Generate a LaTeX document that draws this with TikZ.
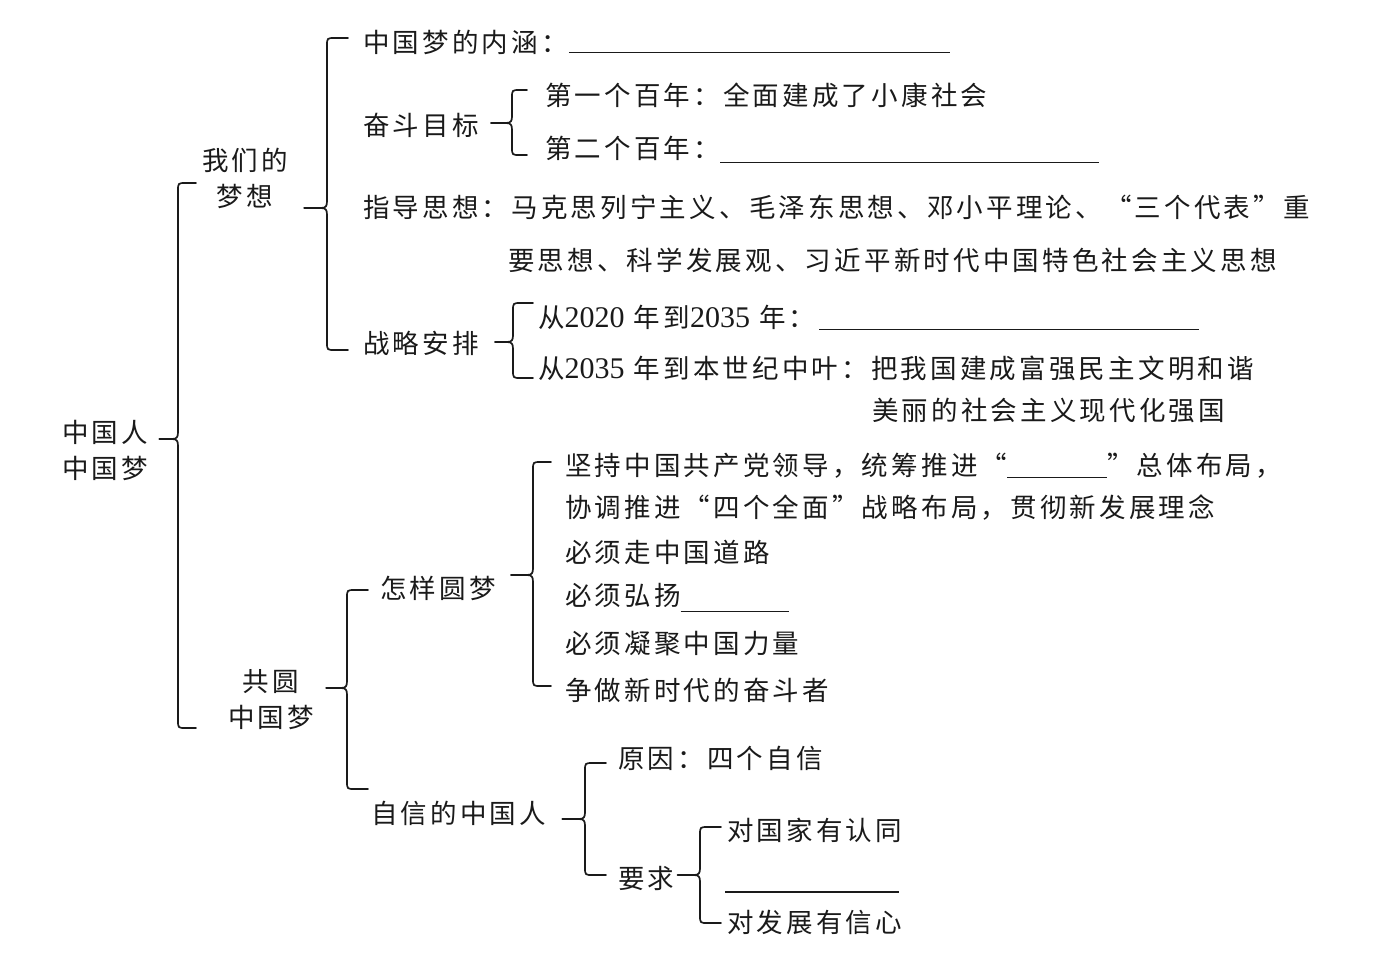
\documentclass[tikz,border=0pt]{standalone}
\usepackage{fontspec}
\newfontfamily\cjk{Noto Sans CJK SC}[LetterSpace=12]
\newfontfamily\lat{Liberation Serif}
\usetikzlibrary{calc}
\definecolor{ink}{HTML}{1A1A1A}
\newcommand\ds[1]{{\lat\fontsize{30}{30}\selectfont #1}}
\newcommand\blank[2]{\rule[#1]{#2}{1.3pt}}
% #1 prefix, #2 parent node, #3 x of vertical, #4 y top, #5 y cusp, #6 y bottom, #7 hook end x, #8 gap after parent
\newcommand\brk[8]{%
  \coordinate (#1t) at (#7,#4);
  \coordinate (#1b) at (#7,#6);
  \coordinate (#1c) at ({#3-6},#5);
  \draw[brline] (#1t) -- ({#3+8},#4) .. controls (#3,#4) .. (#3,{#4+8})
    -- (#3,{#5-7}) .. controls (#3,{#5-2}) and ({#3-1},#5) .. (#1c)
    .. controls ({#3-1},#5) and (#3,{#5+2}) .. (#3,{#5+7})
    -- (#3,{#6-8}) .. controls (#3,#6) .. ({#3+8},#6) -- (#1b);
  \draw[brline] ($(#2.east |- #1c)+(#8,0)$) -- (#1c);
}
\begin{document}
\begin{tikzpicture}[x=1pt,y=-1pt,
  brline/.style={line width=1.7pt, draw=ink, line cap=round, line join=round},
  txt/.style={anchor=west, inner sep=0pt, text=ink, font=\cjk\fontsize{26.5}{36}\selectfont, text height=23.3pt, text depth=3.2pt},
  two/.style={inner sep=0pt, text=ink, font=\cjk\fontsize{26.5}{36}\selectfont}]
\fill[white] (0,0) rectangle (1391,954);
\useasboundingbox (0,0) rectangle (1391,954);

% level 0 / 1
\node[two, align=left, anchor=west] (n0) at (62,450) {中国人\\中国梦};
\node[two, align=center] (n1) at (245,178.5) {我们的\\梦想};
\node[two, align=center] (n2) at (271,699.5) {共圆\\中国梦};

% 我们的梦想
\node[txt] (a1) at (363,42) {中国梦的内涵：\hspace{1pt}\blank{-1pt}{381pt}};
\node[txt] (a2) at (363,125) {奋斗目标};
\node[txt] (a21) at (545,95) {第一个百年：全面建成了小康社会};
\node[txt] (a22) at (545,148) {第二个百年：\blank{-5pt}{379pt}};
\node[txt] (a3) at (363,207) {指导思想：马克思列宁主义、毛泽东思想、邓小平理论、“三个代表”重};
\node[txt] (a3b) at (508,260) {要思想、科学发展观、习近平新时代中国特色社会主义思想};
\node[txt] (a4) at (363,343) {战略安排};
\node[txt] (a41) at (538,317) {从\ds{2020} 年到\ds{2035} 年：\hspace{4pt}\blank{-3pt}{380pt}};
\node[txt] (a42) at (538,368) {从\ds{2035} 年到本世纪中叶：把我国建成富强民主文明和谐};
\node[txt] (a42b) at (872,410) {美丽的社会主义现代化强国};

% 共圆中国梦
\node[txt] (b1) at (380,588) {怎样圆梦};
\node[txt] (b11) at (565,465) {坚持中国共产党领导，统筹推进“\blank{-3pt}{100pt}”总体布局，};
\node[txt] (b11b) at (565,507) {协调推进“四个全面”战略布局，贯彻新发展理念};
\node[txt] (b12) at (565,552) {必须走中国道路};
\node[txt] (b13) at (565,595) {必须弘扬\blank{-7pt}{108pt}};
\node[txt] (b14) at (565,643) {必须凝聚中国力量};
\node[txt] (b15) at (565,690) {争做新时代的奋斗者};
\node[txt] (b2) at (371,813) {自信的中国人};
\node[txt] (b21) at (618,758) {原因：四个自信};
\node[txt] (b22) at (618,878) {要求};
\node[txt] (b221) at (727,830) {对国家有认同};
\coordinate (bl1) at (725,892);
\coordinate (bl2) at (899,892);
\draw[line width=1.3pt, draw=ink] (bl1) -- (bl2);
\node[txt] (b222) at (727,922) {对发展有信心};

% braces
\brk{m}{n0}{178}{183}{439}{728}{196}{11}
\brk{p}{n1}{327}{38}{208}{350}{348}{16}
\brk{q}{a2}{512}{90}{123}{155}{527}{12}
\brk{r}{a4}{513}{303}{342}{378}{533}{16}
\brk{s}{n2}{347}{590}{688}{789}{368}{12}
\brk{u}{b1}{533}{462}{575}{686}{551}{15}
\brk{v}{b2}{585}{763}{819}{875}{606}{16}
\brk{w}{b22}{700}{827}{875}{923}{721}{3}
\end{tikzpicture}
\end{document}
